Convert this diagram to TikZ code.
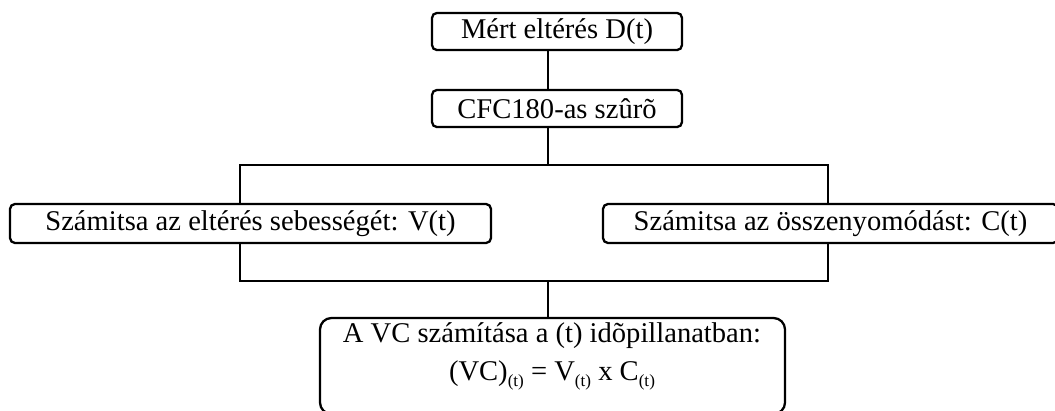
\documentclass[tikz,border=0pt]{standalone}
\usepackage{fontspec}
\setmainfont{Liberation Serif}
\newcommand{\tsub}[1]{\raisebox{-0.45ex}{\fontsize{12}{12}\selectfont #1}}
\begin{document}
\begin{tikzpicture}[
    x=0.7pt, y=-0.7pt,
    box/.style={
        draw,
        rectangle,
        rounded corners=3.5pt,
        line width=1.6pt,
        inner sep=0pt,
        font=\fontsize{20}{24}\selectfont
    },
    bigbox/.style={
        draw,
        rectangle,
        rounded corners=8pt,
        line width=1.6pt,
        inner sep=0pt
    },
    edge/.style={
        line width=1.2pt
    }
]
\useasboundingbox (0,0) rectangle (1055,410);
\clip (0,0) rectangle (1055,410);

% Nodes
\node[box, minimum width=175pt, minimum height=26pt] (meas) at (557,31.5) {Mért eltérés D(t)};
\node[box, minimum width=175pt, minimum height=26pt] (filt) at (557,108.5) {CFC180-as szûrõ};

\node[box, minimum width=336.7pt, minimum height=27.3pt] (vel) at (250.5,223.5) {Számitsa az eltérés sebességét: V(t)};
\node[box, minimum width=318.5pt, minimum height=27.3pt] (comp) at (830.5,223.5) {Számitsa az összenyomódást: C(t)};

\node[bigbox, minimum width=325.5pt, minimum height=67.2pt] (vc) at (552.5,366) {};
\node[align=center, font=\fontsize{20}{26.6}\selectfont, inner sep=0pt] (vctext) at (552,356)
    {A VC számítása a (t) idõpillanatban:\\
     (VC)\tsub{(t)} = V\tsub{(t)} x C\tsub{(t)}};

% Edges
\coordinate (sp) at (548,0);
\coordinate (splitL) at (240,165);
\coordinate (splitR) at (828,165);
\coordinate (joinL) at (240,281);
\coordinate (joinR) at (828,281);

\draw[edge] (meas.south -| sp) -- (filt.north -| sp);
\draw[edge] (filt.south -| sp) -- (sp |- splitL);
\draw[edge] (vel.north -| splitL) -- (splitL) -- (splitR) -- (comp.north -| splitR);
\draw[edge] (vel.south -| joinL) -- (joinL) -- (joinR) -- (comp.south -| joinR);
\draw[edge] (sp |- joinL) -- (vc.north -| sp);

\end{tikzpicture}
\end{document}
